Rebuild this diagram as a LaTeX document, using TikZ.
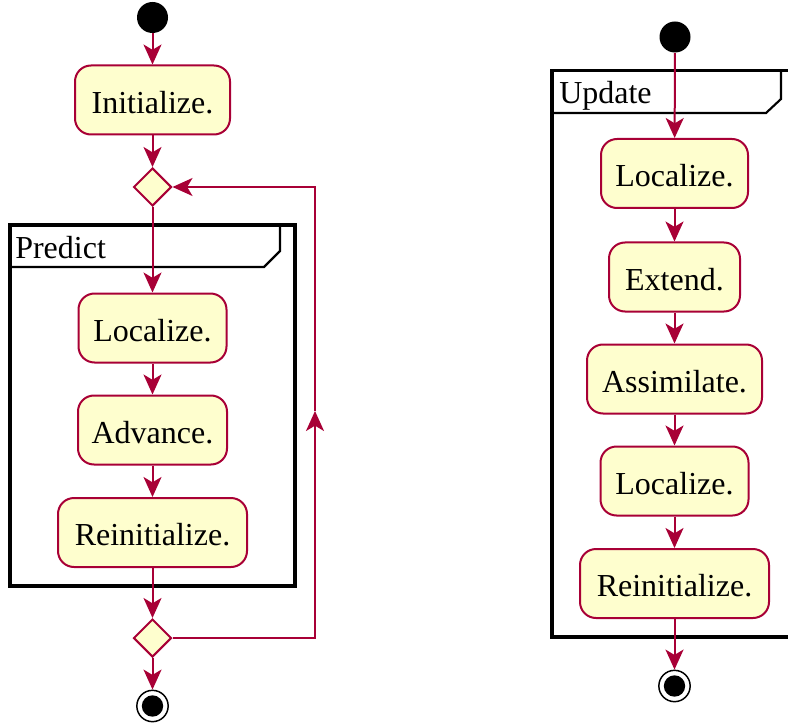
\documentclass[tikz,border=0pt]{standalone}
\usepackage{fontspec}
\setmainfont{Liberation Serif}
\usetikzlibrary{shapes.geometric,arrows.meta}
\definecolor{umlred}{HTML}{A80036}
\definecolor{umlfill}{HTML}{FEFECE}
\tikzset{
  actbox/.style={rectangle, rounded corners=12pt, draw=umlred, fill=umlfill,
    line width=1.5pt, inner sep=0pt, minimum height=51.75pt, text height=19.7pt, text depth=0pt,
    font=\fontsize{24}{28}\selectfont},
  decision/.style={diamond, aspect=1, draw=umlred, fill=umlfill, line width=1.5pt,
    inner sep=0pt, minimum width=28.5pt, minimum height=28.5pt},
  startdot/.style={circle, fill=black, inner sep=0pt, minimum size=23.25pt},
  enddot/.style={circle, draw=black, fill=white, line width=1.1pt, inner sep=0pt, minimum size=23.5pt},
  enddotin/.style={circle, fill=black, inner sep=0pt, minimum size=16pt},
  flow/.style={draw=umlred, line width=1.5pt, -{Stealth[length=15pt,width=13.5pt,inset=4pt]}},
  framebox/.style={draw=black, line width=2.3pt},
  tabline/.style={draw=black, line width=1.6pt},
  framelabel/.style={anchor=base west, inner sep=0pt, font=\fontsize{24}{28}\selectfont},
}
\begin{document}
\begin{tikzpicture}[x=0.75pt,y=-0.75pt]
\useasboundingbox (0,0) rectangle (788,727);
\clip (0,0) rectangle (788,727);

% ---------- Left diagram ----------
% Predict frame
\draw[framebox] (10,225) rectangle (295,586);
\draw[tabline] (280,225) -- (280,251) -- (264,267) -- (10,267);
\node[framelabel] (predict) at (15,258) {Predict};

\node[startdot] (s1) at (152.5,17.5) {};
\node[actbox, minimum width=116.25pt] (init) at (152.5,100) {Initialize.};
\node[decision] (d1) at (152.5,187) {};
\node[actbox, minimum width=111pt] (loc1) at (152.5,328) {Localize.};
\node[actbox, minimum width=111.75pt] (adv) at (152.5,430) {Advance.};
\node[actbox, minimum width=141.75pt] (reinit1) at (152.5,532.5) {Reinitialize.};
\node[decision] (d2) at (152.5,638) {};
\node[enddot] (e1) at (152.5,706) {};
\node[enddotin] (e1in) at (152.5,706) {};

\coordinate (loopmid) at (315,411);

\draw[flow] (s1) -- (init);
\draw[flow] (init) -- (d1);
\draw[flow] (d1) -- (loc1);
\draw[flow] (loc1) -- (adv);
\draw[flow] (adv) -- (reinit1);
\draw[flow] (reinit1) -- (d2);
\draw[flow] (d2) -- (e1);
\draw[flow] (d2.east) -| (loopmid);
\draw[flow] (loopmid) |- (d1.east);

% ---------- Right diagram ----------
\draw[framebox] (552,637) -- (552,70.5) -- (800,70.5) -- (800,637) -- cycle;
\draw[tabline] (781,70.5) -- (781,99) -- (766,113) -- (552,113);
\node[framelabel] (update) at (559,104) {Update};

\node[startdot] (s2) at (675,37) {};
\node[actbox, minimum width=110.25pt] (loc2) at (674.5,173.5) {Localize.};
\node[actbox, minimum width=98.25pt] (ext) at (674.5,277) {Extend.};
\node[actbox, minimum width=131.25pt] (assim) at (674.5,379) {Assimilate.};
\node[actbox, minimum width=111pt] (loc3) at (674.5,481) {Localize.};
\node[actbox, minimum width=141.75pt] (reinit2) at (674.5,583.5) {Reinitialize.};
\node[enddot] (e2) at (674.5,686) {};
\node[enddotin] (e2in) at (674.5,686) {};

\draw[flow] (s2) -- (loc2);
\draw[flow] (loc2) -- (ext);
\draw[flow] (ext) -- (assim);
\draw[flow] (assim) -- (loc3);
\draw[flow] (loc3) -- (reinit2);
\draw[flow] (reinit2) -- (e2);
\end{tikzpicture}
\end{document}
